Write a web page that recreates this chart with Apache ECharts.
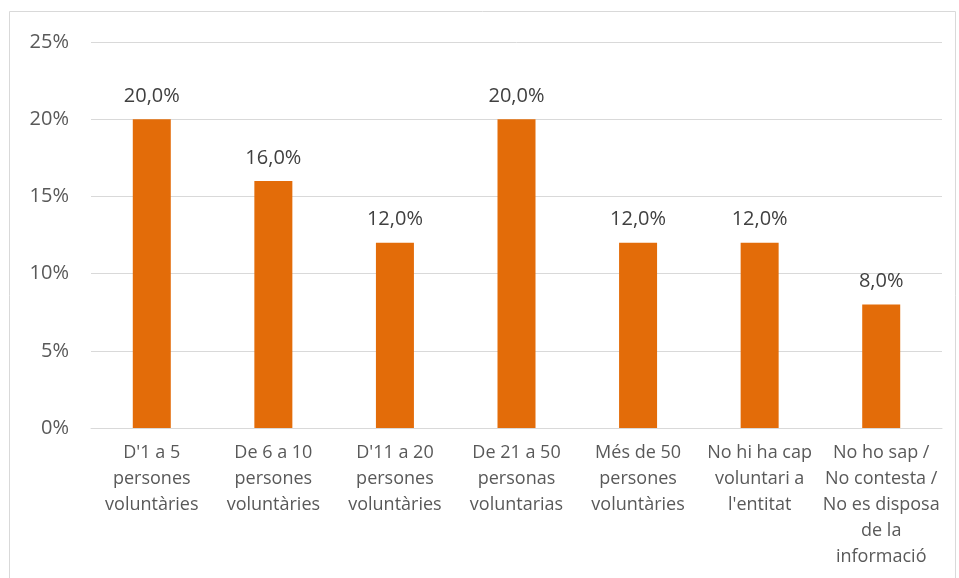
<!DOCTYPE html>
<html>
<head>
<meta charset="utf-8">
<script src="https://cdn.jsdelivr.net/npm/echarts@6/dist/echarts.min.js"></script>
<style>
  html, body { margin: 0; padding: 0; background: #fff; }
  #chart { width: 959px; height: 578px; }
</style>
</head>
<body>
<div id="chart"></div>
<script>
// categories and values (percent)
var categories = [
  "D'1 a 5\npersones\nvoluntàries",
  "De 6 a 10\npersones\nvoluntàries",
  "D'11 a 20\npersones\nvoluntàries",
  "De 21 a 50\npersonas\nvoluntarias",
  "Més de 50\npersones\nvoluntàries",
  "No hi ha cap\nvoluntari a\nl'entitat",
  "No ho sap /\nNo contesta /\nNo es disposa\nde la\ninformació"
];
var values = [20, 16, 12, 20, 12, 12, 8];

var chart = echarts.init(document.getElementById('chart'));

var font = "'Open Sans', 'Noto Sans', sans-serif";

var option = {
  animation: false,
  grid: { left: 91, right: 17, top: 42, bottom: 150, containLabel: false },
  // outer chart border
  graphic: [{
    type: 'rect',
    shape: { x: 9.5, y: 11.5, width: 946, height: 620 },
    style: { fill: 'none', stroke: '#d9d9d9', lineWidth: 1 },
    silent: true
  }],
  xAxis: {
    type: 'category',
    data: categories,
    axisLine: { lineStyle: { color: '#d9d9d9', width: 1 } },
    axisTick: { show: false },
    axisLabel: {
      color: '#595959',
      fontFamily: font,
      fontSize: 18,
      lineHeight: 26,
      margin: 12,
      interval: 0
    }
  },
  yAxis: {
    type: 'value',
    min: 0,
    max: 25,
    interval: 5,
    axisLine: { show: false },
    axisTick: { show: false },
    splitLine: { lineStyle: { color: '#d9d9d9', width: 1 } },
    axisLabel: {
      color: '#595959',
      fontFamily: font,
      fontSize: 20,
      margin: 22,
      formatter: '{value}%'
    }
  },
  series: [{
    type: 'bar',
    data: values,
    barWidth: 38,
    itemStyle: { color: '#e36c09' },
    label: {
      show: true,
      position: 'top',
      distance: 13,
      color: '#404040',
      fontFamily: font,
      fontSize: 20,
      formatter: function (p) { return p.value.toFixed(1).replace('.', ',') + '%'; }
    }
  }]
};

chart.setOption(option);
</script>
</body>
</html>
